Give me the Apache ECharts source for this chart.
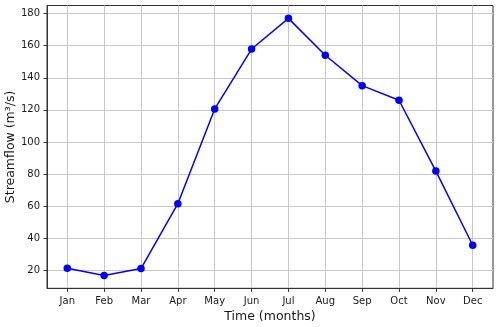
<!DOCTYPE html>
<html><head><meta charset="utf-8">
<script src="https://cdn.jsdelivr.net/npm/echarts@6/dist/echarts.min.js"></script>
<style>html,body{margin:0;padding:0;background:#fff}#c{width:500px;height:327px}</style>
</head><body><div id="c"></div>
<script>
const months = ['Jan','Feb','Mar','Apr','May','Jun','Jul','Aug','Sep','Oct','Nov','Dec'];
const streamflow = [21.4, 16.9, 21.2, 61.6, 120.6, 157.9, 177.0, 154.0, 135.1, 126.0, 81.9, 35.7];
const yTicks = [20, 40, 60, 80, 100, 120, 140, 160, 180];
const xTicks = months.map((m, i) => i);

const chart = echarts.init(document.getElementById('c'), null, {renderer: 'canvas'});
const font = 'DejaVu Sans';
const gridColor = '#c8c8c8';
chart.setOption({
  animation: false,
  backgroundColor: '#fff',
  grid: {left: 47, right: 7, top: 5.5, bottom: 38.7, containLabel: false, outerBoundsMode: 'none',
    show: true, borderColor: '#333', borderWidth: 1, backgroundColor: 'transparent'},
  xAxis: {
    type: 'value', min: -0.55, max: 11.55,
    name: 'Time (months)', nameLocation: 'middle', nameGap: 22, nameMoveOverlap: false,
    nameTextStyle: {fontFamily: font, fontSize: 12.5, color: '#1a1a1a'},
    axisLine: {show: true, onZero: false, lineStyle: {color: '#333'}},
    axisTick: {show: true, length: 3.5, customValues: xTicks, lineStyle: {color: '#333'}},
    axisLabel: {customValues: xTicks, margin: 8, fontFamily: font, fontSize: 10, color: '#1a1a1a',
      formatter: v => months[Math.round(v)]},
    splitLine: {show: true, customValues: xTicks, lineStyle: {color: gridColor, width: 1}}
  },
  yAxis: {
    type: 'value', min: 8.9, max: 185,
    name: 'Streamflow (m³/s)', nameLocation: 'middle', nameGap: 30, nameMoveOverlap: false,
    nameTextStyle: {fontFamily: font, fontSize: 12.5, color: '#1a1a1a'},
    axisLine: {show: true, onZero: false, lineStyle: {color: '#333'}},
    axisTick: {show: true, length: 3.5, customValues: yTicks, lineStyle: {color: '#333'}},
    axisLabel: {customValues: yTicks, margin: 7, fontFamily: font, fontSize: 10, color: '#1a1a1a'},
    splitLine: {show: true, customValues: yTicks, lineStyle: {color: gridColor, width: 1}}
  },
  series: [{
    type: 'line',
    data: streamflow.map((v, i) => [xTicks[i], v]),
    symbol: 'circle', symbolSize: 7.5,
    lineStyle: {color: '#0000ff', width: 1.5},
    itemStyle: {color: '#0000ff'}
  }]
});
</script></body></html>
